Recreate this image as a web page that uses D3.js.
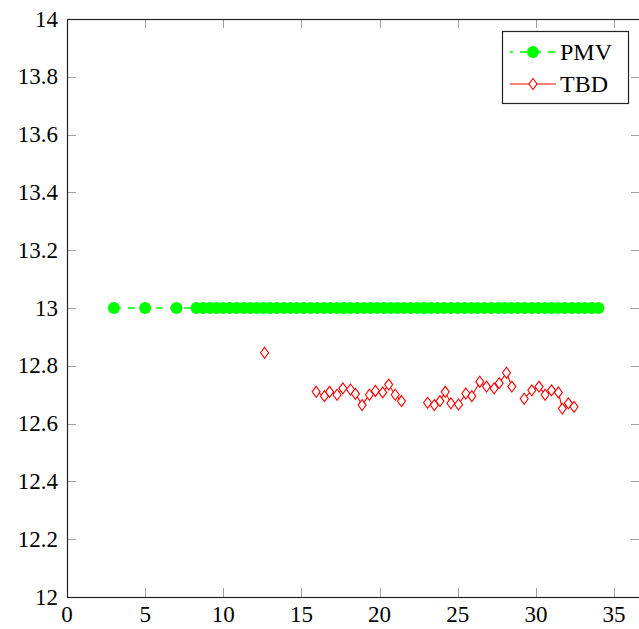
<!DOCTYPE html>
<html>
<head>
<meta charset="utf-8">
<script src="https://cdn.jsdelivr.net/npm/d3@7"></script>
<style>
  body { margin: 0; background: #fff; }
  svg { display: block; }
</style>
</head>
<body>
<svg id="chart" width="639" height="629"></svg>
<script>
// PMV series (constant at 13)
const pmvX = [3, 5, 7, 8.29, 8.71, 9.14, 9.57, 10, 10.43, 10.86, 11.29, 11.71, 12.14, 12.57, 13,
  13.43, 13.86, 14.29, 14.71, 15.14, 15.57, 16, 16.43, 16.86, 17.29, 17.71, 18.14, 18.57, 19,
  19.43, 19.86, 20.29, 20.71, 21.14, 21.57, 22, 22.43, 22.86, 23.29, 23.71, 24.14, 24.57, 25,
  25.43, 25.86, 26.29, 26.71, 27.14, 27.57, 28, 28.43, 28.86, 29.29, 29.71, 30.14, 30.57, 31,
  31.43, 31.86, 32.29, 32.71, 33.14, 33.57, 34];
const pmvY = [13, 13, 13, 13, 13, 13, 13, 13, 13, 13, 13, 13, 13, 13, 13,
  13, 13, 13, 13, 13, 13, 13, 13, 13, 13, 13, 13, 13, 13,
  13, 13, 13, 13, 13, 13, 13, 13, 13, 13, 13, 13, 13, 13,
  13, 13, 13, 13, 13, 13, 13, 13, 13, 13, 13, 13, 13, 13,
  13, 13, 13, 13, 13, 13, 13];

// TBD series (null = break in the line)
const tbdX = [12.64, null, 15.94, 16.47, 16.8, 17.28, 17.65, 18.14, 18.45, 18.88, 19.35, 19.73,
  20.2, 20.58, 21.0, 21.4, null, 23.07, 23.5, 23.86, 24.2, 24.56, 25.05, 25.52, 25.9, 26.41,
  26.84, 27.33, 27.65, 28.12, 28.46, null, 29.25, 29.74, 30.2, 30.59, 31.0, 31.44, 31.69,
  32.08, 32.44];
const tbdY = [12.845, null, 12.710, 12.695, 12.710, 12.700, 12.722, 12.718, 12.703, 12.664,
  12.700, 12.713, 12.708, 12.735, 12.700, 12.678, null, 12.672, 12.664, 12.678, 12.710, 12.670,
  12.666, 12.704, 12.695, 12.745, 12.728, 12.722, 12.740, 12.776, 12.728, null, 12.686, 12.715,
  12.728, 12.700, 12.715, 12.708, 12.652, 12.670, 12.658];

const xTicks = [0, 5, 10, 15, 20, 25, 30, 35];
const yTicks = [12, 12.2, 12.4, 12.6, 12.8, 13, 13.2, 13.4, 13.6, 13.8, 14];
const seriesNames = ["PMV", "TBD"];
const seriesColors = ["#00ff00", "#ff0000"];

const fontFamily = "'Liberation Serif', 'DejaVu Serif', serif";
const plot = { left: 67, right: 640, top: 19, bottom: 597 };
const svg = d3.select("#chart").attr("font-family", fontFamily);

const x = d3.scaleLinear().domain([0, 36.66]).range([plot.left, plot.right]);
const y = d3.scaleLinear().domain([12, 14]).range([plot.bottom, plot.top]);

const tickLen = 9;
const tickColor = "#a0a0a0";

// ticks (inward, mirrored on all sides)
const ticks = svg.append("g").attr("stroke", tickColor).attr("stroke-width", 1);
xTicks.forEach(t => {
  const px = Math.round(x(t)) + 0.5;
  ticks.append("line").attr("x1", px).attr("x2", px).attr("y1", plot.bottom).attr("y2", plot.bottom - tickLen);
  ticks.append("line").attr("x1", px).attr("x2", px).attr("y1", plot.top).attr("y2", plot.top + tickLen);
});
yTicks.forEach(t => {
  const py = Math.round(y(t)) + 0.5;
  ticks.append("line").attr("x1", plot.left).attr("x2", plot.left + tickLen).attr("y1", py).attr("y2", py);
  ticks.append("line").attr("x1", plot.right).attr("x2", plot.right - tickLen).attr("y1", py).attr("y2", py);
});

// frame
svg.append("rect")
  .attr("x", plot.left + 0.5).attr("y", plot.top + 0.5)
  .attr("width", plot.right - plot.left).attr("height", plot.bottom - plot.top)
  .attr("fill", "none").attr("stroke", "#222").attr("stroke-width", 1.2);

// tick labels
svg.append("g").selectAll("text").data(xTicks).join("text")
  .attr("font-family", fontFamily)
  .attr("x", d => x(d)).attr("y", plot.bottom + 25)
  .attr("text-anchor", "middle").attr("font-size", 23).attr("fill", "#000")
  .text(d => d);
svg.append("g").selectAll("text").data(yTicks).join("text")
  .attr("font-family", fontFamily)
  .attr("x", plot.left - 9).attr("y", d => y(d) + 7.5)
  .attr("text-anchor", "end").attr("font-size", 23).attr("fill", "#000")
  .text(d => d3.format("~g")(d));

// PMV
const pmv = pmvX.map((v, i) => ({ x: v, y: pmvY[i] }));
svg.append("path").datum(pmv)
  .attr("fill", "none").attr("stroke", seriesColors[0]).attr("stroke-width", 1.5)
  .attr("stroke-dasharray", "7,7")
  .attr("d", d3.line().x(d => x(d.x)).y(d => y(d.y)));
svg.append("g").selectAll("circle").data(pmv).join("circle")
  .attr("cx", d => x(d.x)).attr("cy", d => y(d.y)).attr("r", 6)
  .attr("fill", seriesColors[0]);

// TBD
const tbd = tbdX.map((v, i) => ({ x: v, y: tbdY[i] }));
svg.append("path").datum(tbd)
  .attr("fill", "none").attr("stroke", seriesColors[1]).attr("stroke-width", 1.1)
  .attr("d", d3.line().defined(d => d.y != null).x(d => x(d.x)).y(d => y(d.y)));
const diamond = (cx, cy) => `M${cx},${cy - 5.5}L${cx + 4},${cy}L${cx},${cy + 5.5}L${cx - 4},${cy}Z`;
svg.append("g").selectAll("path").data(tbd.filter(d => d.y != null)).join("path")
  .attr("d", d => diamond(x(d.x), y(d.y)))
  .attr("fill", "#fff").attr("stroke", seriesColors[1]).attr("stroke-width", 1.1);

// legend
const lg = svg.append("g");
lg.append("rect").attr("x", 502.5).attr("y", 31.5).attr("width", 126).attr("height", 72)
  .attr("fill", "#fff").attr("stroke", "#222").attr("stroke-width", 1.2);
const rows = [52, 84];
lg.append("line").attr("x1", 510).attr("x2", 556).attr("y1", rows[0]).attr("y2", rows[0])
  .attr("stroke", seriesColors[0]).attr("stroke-width", 1.5).attr("stroke-dasharray", "7,7")
  .attr("stroke-dashoffset", 4);
lg.append("circle").attr("cx", 533).attr("cy", rows[0]).attr("r", 6).attr("fill", seriesColors[0]);
lg.append("line").attr("x1", 510).attr("x2", 556).attr("y1", rows[1]).attr("y2", rows[1])
  .attr("stroke", seriesColors[1]).attr("stroke-width", 1.1);
lg.append("path").attr("d", diamond(533, rows[1]))
  .attr("fill", "#fff").attr("stroke", seriesColors[1]).attr("stroke-width", 1.1);
lg.selectAll("text").data(seriesNames).join("text")
  .attr("font-family", fontFamily)
  .attr("x", 560).attr("y", (d, i) => rows[i] + 8)
  .attr("font-size", 24).attr("fill", "#000")
  .text(d => d);
</script>
</body>
</html>
